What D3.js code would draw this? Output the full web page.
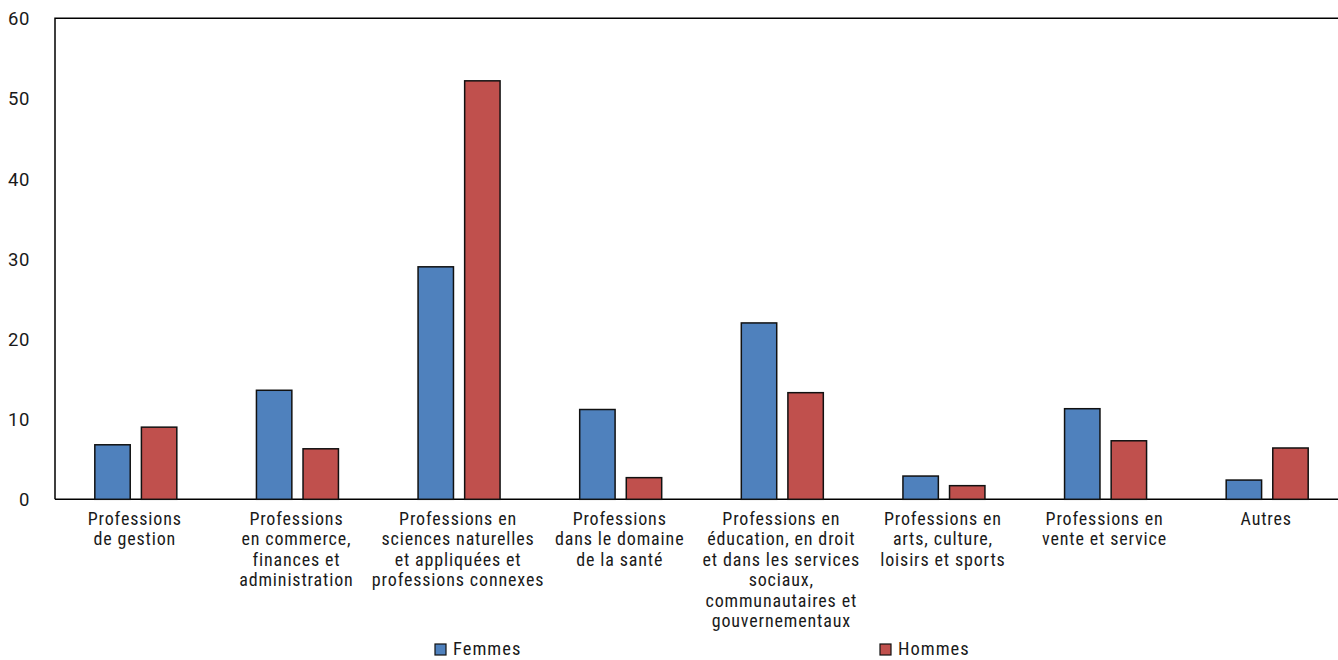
<!DOCTYPE html>
<html><head><meta charset="utf-8">
<script src="https://cdn.jsdelivr.net/npm/d3@7"></script>
<style>
html,body{margin:0;padding:0;background:#fff;}
svg text{font-family:"Liberation Sans Narrow","Roboto Condensed","Arial Narrow",Roboto,sans-serif;fill:#1a1a1a;}
</style></head><body>
<svg id="c" width="1338" height="660"></svg>
<script>
const categories = [
  ["Professions","de gestion"],
  ["Professions","en commerce,","finances et","administration"],
  ["Professions en","sciences naturelles","et appliquées et","professions connexes"],
  ["Professions","dans le domaine","de la santé"],
  ["Professions en","éducation, en droit","et dans les services","sociaux,","communautaires et","gouvernementaux"],
  ["Professions en","arts, culture,","loisirs et sports"],
  ["Professions en","vente et service"],
  ["Autres"]
];
const seriesNames = ["Femmes","Hommes"];
const femmes = [6.8, 13.6, 29.0, 11.2, 22.0, 2.9, 11.3, 2.4];
const hommes = [9.0, 6.3, 52.2, 2.7, 13.3, 1.7, 7.3, 6.4];
const yTicks = [0,10,20,30,40,50,60];
const colors = ["#4F81BD","#C0504D"];

const svg = d3.select("#c");
const pLeft = 55, pTop = 18.3, pBottom = 499.3, pRight = 1348;
const x = d3.scaleBand().domain(d3.range(categories.length)).range([pLeft, pRight]).paddingInner(0).paddingOuter(0);
const xs = d3.scaleBand().domain(seriesNames).range([0, 82]).paddingInner(0.24);
const y = d3.scaleLinear().domain([0,60]).range([pBottom, pTop]);
const groupOff = (x.bandwidth() - 82) / 2;

// frame
svg.append("path").attr("d", `M${pLeft},${pBottom}V${pTop}H1338`).attr("fill","none").attr("stroke","#000").attr("stroke-width",1.5);
svg.append("line").attr("x1",pLeft).attr("x2",1338).attr("y1",y(0)).attr("y2",y(0)).attr("stroke","#000").attr("stroke-width",1.5);

// y ticks
const yAxis = d3.axisLeft(y).tickValues(yTicks).tickSize(0).tickPadding(0);
const ya = svg.append("g").attr("transform","translate(30,0)").call(yAxis);
ya.select(".domain").remove();
ya.selectAll("text").attr("font-size",18.5).attr("dy","0.35em").attr("fill","#1a1a1a")
  .style("font-family",'"Liberation Sans Narrow",Roboto,sans-serif').style("letter-spacing","0.6px");

// bars
const data = [femmes, hommes];
data.forEach((vals, si) => {
  svg.append("g").selectAll("rect").data(vals).join("rect")
    .attr("x", (d,i) => x(i) + groupOff + xs(seriesNames[si]))
    .attr("width", xs.bandwidth())
    .attr("y", d => y(d))
    .attr("height", d => y(0) - y(d))
    .attr("fill", colors[si])
    .attr("stroke", "#111").attr("stroke-width", 1.5);
});

// category labels
const lab = svg.append("g");
categories.forEach((lines, i) => {
  const cx = x(i) + x.bandwidth()/2 - 1;
  const t = lab.append("text").attr("text-anchor","middle").attr("font-size",18)
    .style("letter-spacing","0.85px")
    .attr("x", cx).attr("y", 525);
  lines.forEach((l, j) => t.append("tspan").attr("x", cx).attr("dy", j===0?0:20.4).text(l));
});

// legend
const legX = [435, 880];
seriesNames.forEach((n, i) => {
  svg.append("rect").attr("x", legX[i]).attr("y", 644).attr("width", 11).attr("height", 11)
    .attr("fill", colors[i]).attr("stroke","#111").attr("stroke-width",1.2);
  svg.append("text").attr("x", legX[i] + 18).attr("y", 655).attr("font-size",18.5)
    .style("letter-spacing","1px").text(n);
});
</script>
</body></html>
